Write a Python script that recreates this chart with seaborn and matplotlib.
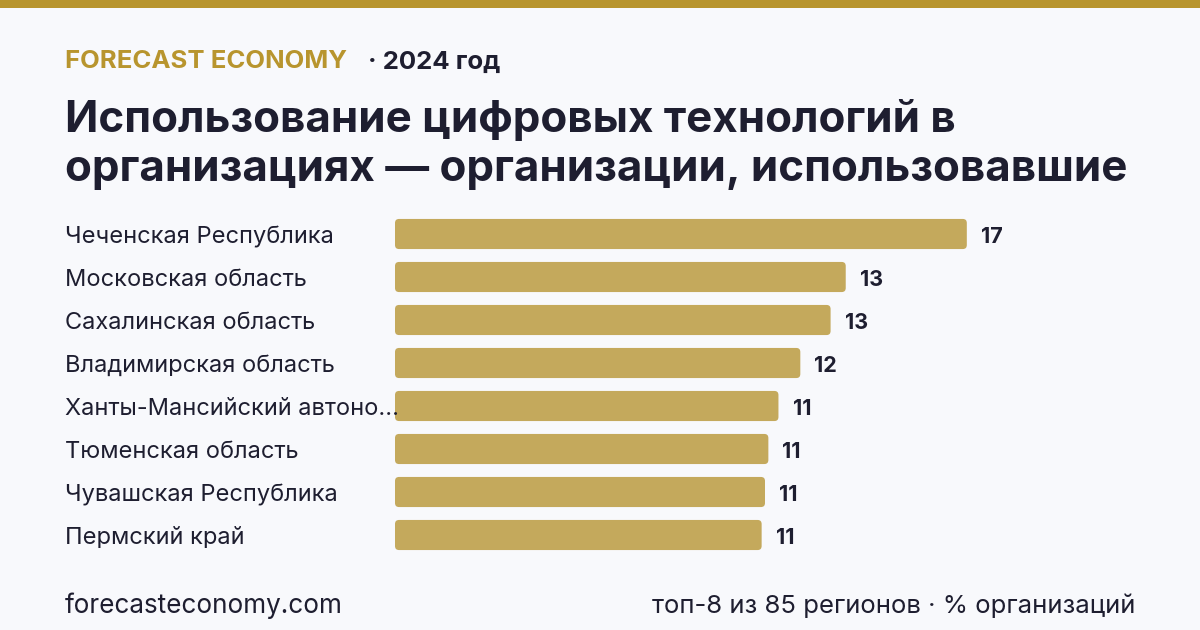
import pandas as pd
import seaborn as sns
import matplotlib.pyplot as plt
from matplotlib.patches import FancyBboxPatch, Rectangle

regions = ['Чеченская Республика', 'Московская область', 'Сахалинская область',
           'Владимирская область', 'Ханты-Мансийский автоно...', 'Тюменская область',
           'Чувашская Республика', 'Пермский край']
values = [17.0, 13.4, 12.95, 12.05, 11.4, 11.1, 11.0, 10.9]

df = pd.DataFrame({'region': regions, 'value': values})

BG = '#f8f9fc'
GOLD = '#b8952e'
BAR = '#c4a95c'
DARK = '#1e1e30'

sns.set_theme(style='white')
plt.rcParams['font.family'] = ['Inter', 'DejaVu Sans']

fig = plt.figure(figsize=(12, 6.3), dpi=100, facecolor=BG)
ax = fig.add_axes([395 / 1200, 1 - 556.5 / 630, 740 / 1200, 344 / 630])
ax.set_facecolor(BG)

sns.barplot(data=df, x='value', y='region', color=BAR, width=0.7,
            saturation=1, ax=ax)

# rounded bars
for p in list(ax.patches):
    x, y, w, h = p.get_x(), p.get_y(), p.get_width(), p.get_height()
    p.remove()
    ax.add_patch(FancyBboxPatch((x, y), w, h,
                                boxstyle='round,pad=0,rounding_size=0.12',
                                mutation_aspect=0.78, fc=BAR, ec='none'))

ax.set_xlim(0, 22)
ax.set_ylim(len(regions) - 0.5, -0.5)
ax.set_xlabel('')
ax.set_ylabel('')
ax.set_xticks([])
ax.set_yticks([])
sns.despine(ax=ax, left=True, bottom=True)

for i, v in enumerate(values):
    ax.text(v + 0.42, i + 0.07, f'{v:.0f}', va='center', ha='left',
            fontsize=15.5, fontweight='bold', color=DARK)
    fig.text(65 / 1200, 1 - (237 + 43 * i) / 630, regions[i], va='center',
             ha='left', fontsize=17, color=DARK, zorder=0)

# top stripe
fig.add_artist(Rectangle((0, 1 - 8 / 630), 1, 8 / 630, transform=fig.transFigure,
                         fc=GOLD, ec='none'))

fig.text(65 / 1200, 1 - 62 / 630, 'FORECAST ECONOMY', fontsize=18.5,
         fontweight='bold', color=GOLD, va='center', ha='left')
fig.text(368 / 1200, 1 - 62 / 630, '· 2024 год', fontsize=18.5,
         fontweight='bold', color=DARK, va='center', ha='left')
fig.text(65 / 1200, 1 - 120 / 630, 'Использование цифровых технологий в',
         fontsize=31.6, fontweight='bold', color=DARK, va='center', ha='left')
fig.text(65 / 1200, 1 - 170 / 630, 'организациях — организации, использовавшие',
         fontsize=31.6, fontweight='bold', color=DARK, va='center', ha='left')

fig.text(65 / 1200, 1 - 606 / 630, 'forecasteconomy.com', fontsize=18.8,
         color=DARK, va='center', ha='left')
fig.text(1135 / 1200, 1 - 606 / 630, 'топ-8 из 85 регионов · % организаций',
         fontsize=18.5, color=DARK, va='center', ha='right')

fig.savefig('out.png', dpi=100, facecolor=BG)
